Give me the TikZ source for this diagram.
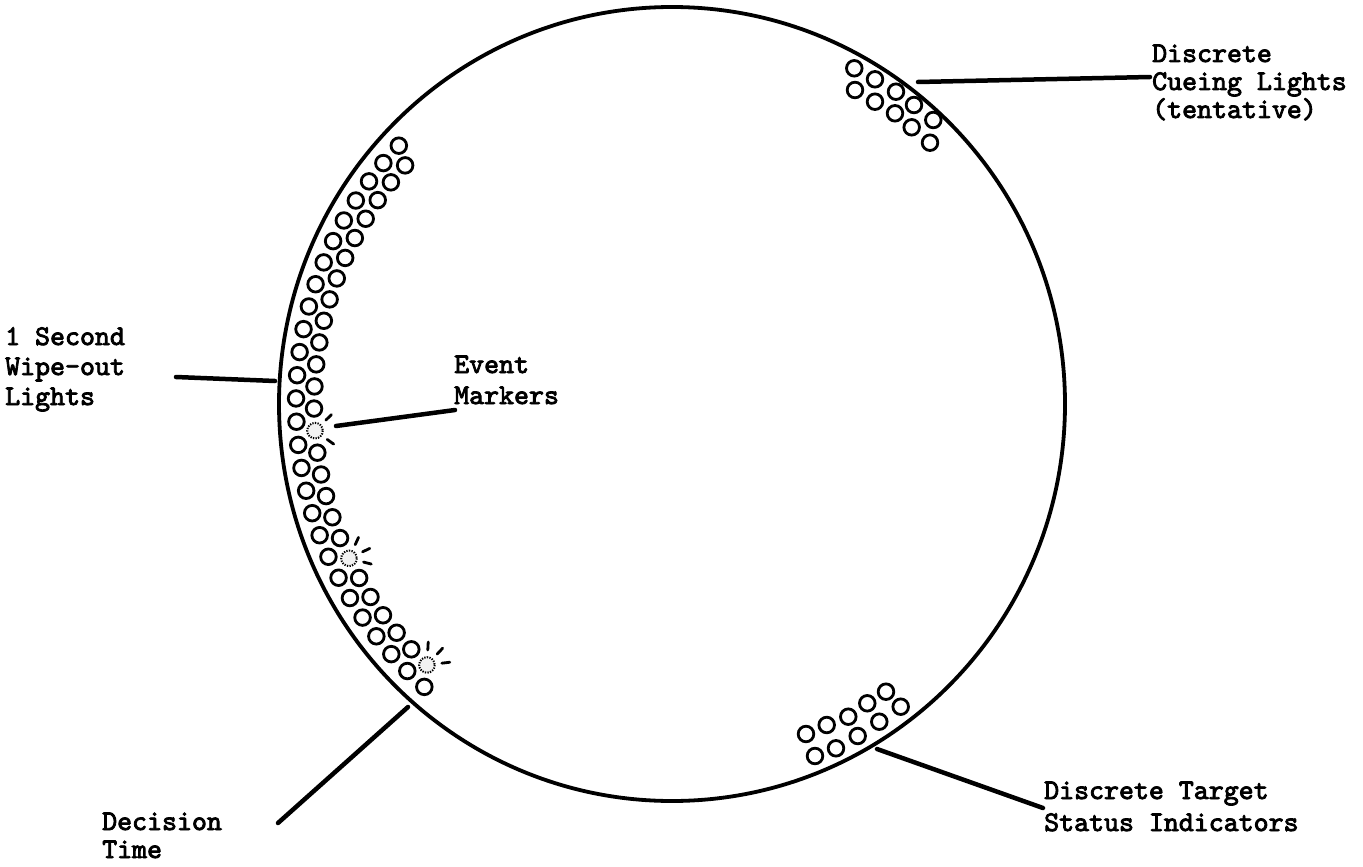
\documentclass[tikz,border=0pt]{standalone}
\usepackage{fontspec}
\newfontfamily\twfont{lmmono10-regular.otf}[FakeBold=3]
\newcommand\stackln[2]{\vtop{\baselineskip=#1pt\relax #2}}
\tikzset{
  bigring/.style={line width=3.8pt},
  lamp/.style={line width=2.8pt},
  evlamp/.style={line width=2pt, dash pattern=on 1.3pt off 1.3pt, fill=black!5},
  evdash/.style={line width=2.8pt, line cap=round},
  pointer/.style={line width=4.5pt, line cap=round},
  lbl/.style={anchor=base west, inner sep=0pt, font=\twfont\fontsize{28.5}{30}\selectfont},
}
\begin{document}
\begin{tikzpicture}[x=1pt,y=-1pt]
\useasboundingbox (0,0) rectangle (1363,867);
% main display
\coordinate (C) at (672,404);
\draw[bigring] (C) ellipse[x radius=393, y radius=397];

% 1 second wipe-out lights, outer row
\foreach \k in {0,...,26}{
  \pgfmathsetmacro\ang{136.6+3.546*\k}
  \pgfmathsetmacro\px{672+376*cos(\ang)}
  \pgfmathsetmacro\py{404-376*sin(\ang)}
  \draw[lamp] (\px,\py) circle[radius=7.8];
}
% inner row
\foreach \k in {0,...,12,14,15,16,17,18,20,21,22,23,24}{
  \pgfmathsetmacro\ang{138.2+3.544*\k}
  \pgfmathsetmacro\px{672+358*cos(\ang)}
  \pgfmathsetmacro\py{404-358*sin(\ang)}
  \draw[lamp] (\px,\py) circle[radius=7.8];
}
% event markers
\foreach \k in {13,19,25}{
  \pgfmathsetmacro\ang{138.2+3.544*\k}
  \pgfmathsetmacro\px{672+358*cos(\ang)}
  \pgfmathsetmacro\py{404-358*sin(\ang)}
  \draw[evlamp] (\px,\py) circle[radius=7.8];
  \foreach \off in {40,-40}{
    \pgfmathsetmacro\b{\ang-180+\off}
    \draw[evdash] ({\px+15*cos(\b)},{\py-15*sin(\b)}) -- ({\px+23*cos(\b)},{\py-23*sin(\b)});
  }
}
\foreach \k in {19,25}{
  \pgfmathsetmacro\ang{138.2+3.544*\k}
  \pgfmathsetmacro\px{672+358*cos(\ang)}
  \pgfmathsetmacro\py{404-358*sin(\ang)}
  \pgfmathsetmacro\b{\ang-180}
  \draw[evdash] ({\px+15*cos(\b)},{\py-15*sin(\b)}) -- ({\px+23*cos(\b)},{\py-23*sin(\b)});
}

% discrete cueing lights
\foreach \x/\y in {854.3/68.3, 875/79.3, 896/91.7, 914/105, 933.3/120,
                   855/90, 875/101.7, 895/113.3, 911.7/127.3, 930/142.7}{
  \draw[lamp] (\x,\y) circle[radius=7.8];
}
% discrete target status indicators
\foreach \x/\y in {806/734, 826.7/725, 848.3/716.7, 867.3/703.3, 886/691.7,
                   815/756, 836/748.3, 857.7/736, 879.3/721.7, 900.7/706.7}{
  \draw[lamp] (\x,\y) circle[radius=7.8];
}

% labels
\node[lbl] (cueLbl) at (1152,62) {\stackln{28}{\hbox{Discrete}\hbox{Cueing Lights}\hbox{(tentative)}}};
\node[lbl] (wipeLbl) at (5,345) {\stackln{30}{\hbox{1 Second}\hbox{Wipe-out}\hbox{Lights}}};
\node[lbl] (eventLbl) at (454,373) {\stackln{31}{\hbox{Event}\hbox{Markers}}};
\node[lbl] (decLbl) at (102,830) {\stackln{28}{\hbox{Decision}\hbox{Time}}};
\node[lbl] (tgtLbl) at (1044,799) {\stackln{32}{\hbox{Discrete Target}\hbox{Status Indicators}}};

% pointer ends
\coordinate (cueTip) at (918,82);
\coordinate (cueEnd) at (1150,77);
\coordinate (wipeTip) at (275,381);
\coordinate (wipeEnd) at (176,377);
\coordinate (evTip) at (336,426);
\coordinate (evEnd) at (455,410);
\coordinate (decTip) at (408,707);
\coordinate (decEnd) at (278,823);
\coordinate (tgtTip) at (877,749);
\coordinate (tgtEnd) at (1043,808);

\draw[pointer] (cueTip) -- (cueEnd);
\draw[pointer] (wipeTip) -- (wipeEnd);
\draw[pointer] (evTip) -- (evEnd);
\draw[pointer] (decTip) -- (decEnd);
\draw[pointer] (tgtTip) -- (tgtEnd);
\end{tikzpicture}
\end{document}
